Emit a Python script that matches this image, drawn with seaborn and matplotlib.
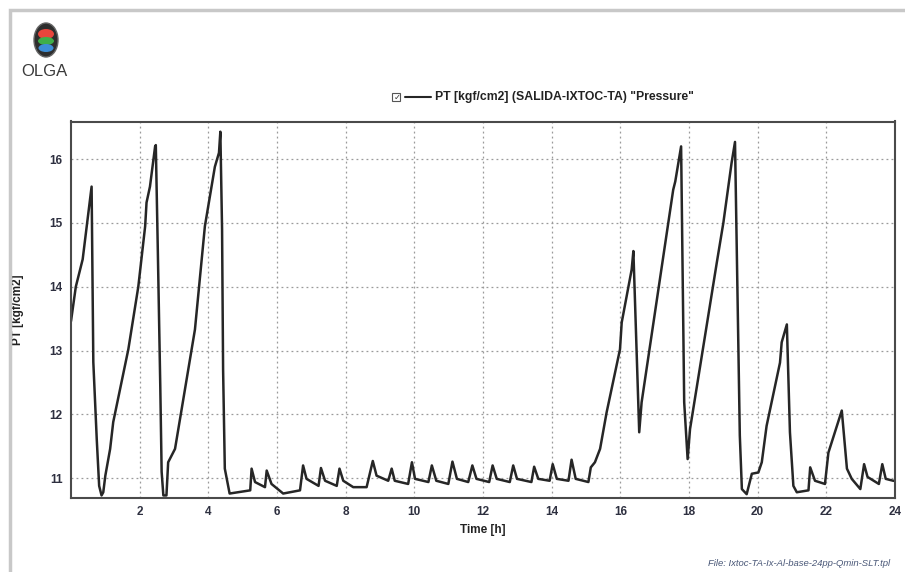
import matplotlib
matplotlib.use("Agg")
import matplotlib.pyplot as plt
from matplotlib.patches import Rectangle, Ellipse
import seaborn as sns
import pandas as pd

# ---- data ----
time_h = [0.00, 0.14, 0.34, 0.41, 0.60, 0.65, 0.75, 0.82, 0.89, 0.94, 1.00, 1.14, 1.23,
          1.67, 1.96, 2.16, 2.20, 2.30, 2.45, 2.47, 2.53, 2.60, 2.64, 2.69, 2.78, 2.83, 3.03,
          3.61, 3.90, 4.19, 4.31, 4.35, 4.40, 4.43, 4.48, 4.62, 5.22,
          5.26, 5.36, 5.65, 5.70, 5.84, 6.18, 6.67,
          6.76, 6.86, 7.21, 7.28, 7.40, 7.74, 7.82, 7.93, 8.22, 8.61,
          8.79, 8.90, 9.24, 9.34, 9.43, 9.82, 9.93, 10.02, 10.41, 10.51, 10.64,
          10.99, 11.11, 11.24, 11.57, 11.69, 11.81, 12.18, 12.28, 12.40,
          12.78, 12.88, 12.99, 13.41, 13.49, 13.61, 13.94, 14.03, 14.15,
          14.49, 14.58, 14.70, 15.07, 15.14, 15.26, 15.41, 15.60, 15.99, 16.04,
          16.33, 16.38, 16.55, 16.62, 17.54, 17.60, 17.77, 17.86, 17.96, 18.03,
          18.81, 19.00, 19.24, 19.34, 19.48, 19.54, 19.68, 19.83, 20.02, 20.12,
          20.26, 20.65, 20.70, 20.85, 20.94, 21.04, 21.14, 21.48, 21.53, 21.67,
          21.96, 22.06, 22.45, 22.60, 22.74, 22.99, 23.10, 23.20, 23.53, 23.63, 23.73, 23.95, 24.00]
pressure = [13.46, 14.00, 14.43, 14.74, 15.57, 12.82, 11.61, 10.88, 10.73, 10.78, 11.04, 11.46, 11.88,
            13.02, 14.00, 14.95, 15.32, 15.57, 16.20, 16.22, 14.53, 12.45, 11.10, 10.73, 10.73, 11.25, 11.46,
            13.33, 14.95, 15.88, 16.10, 16.43, 14.90, 12.70, 11.15, 10.76, 10.81,
            11.15, 10.94, 10.86, 11.12, 10.91, 10.76, 10.81,
            11.20, 10.99, 10.88, 11.16, 10.96, 10.88, 11.15, 10.96, 10.86, 10.86,
            11.27, 11.04, 10.96, 11.15, 10.96, 10.91, 11.25, 10.99, 10.94, 11.20, 10.96,
            10.91, 11.26, 10.99, 10.94, 11.20, 10.99, 10.94, 11.20, 10.99,
            10.94, 11.20, 10.99, 10.94, 11.18, 10.99, 10.96, 11.22, 10.99,
            10.96, 11.29, 10.99, 10.94, 11.17, 11.25, 11.46, 12.03, 13.02, 13.44,
            14.27, 14.56, 11.72, 12.19, 15.52, 15.65, 16.20, 12.19, 11.30, 11.77,
            14.38, 15.00, 15.94, 16.27, 11.67, 10.83, 10.75, 11.07, 11.09, 11.25,
            11.82, 12.81, 13.13, 13.41, 11.72, 10.88, 10.78, 10.81, 11.17, 10.96,
            10.91, 11.40, 12.06, 11.15, 10.99, 10.83, 11.22, 11.02, 10.91, 11.22, 10.99, 10.96, 10.96]
x_ticks = [2, 4, 6, 8, 10, 12, 14, 16, 18, 20, 22, 24]
y_ticks = [11, 12, 13, 14, 15, 16]
series_label = 'PT [kgf/cm2] (SALIDA-IXTOC-TA) "Pressure"'
x_label = "Time [h]"
y_label = "PT [kgf/cm2]"
file_note = "File: Ixtoc-TA-Ix-Al-base-24pp-Qmin-SLT.tpl"

df = pd.DataFrame({"t": time_h, "p": pressure})

sns.set_style("white")
plt.rcParams["font.family"] = ["Liberation Sans", "DejaVu Sans"]

W, H = 905, 572
fig = plt.figure(figsize=(W / 100, H / 100), dpi=100)

def fx(px):
    return px / W

def fy(py):
    return 1 - py / H

# outer frame
fig.patches.append(Rectangle((fx(10), fy(600)), fx(1000), fy(10) - fy(600),
                             transform=fig.transFigure, fill=False,
                             edgecolor="#c8c8c8", linewidth=2.5))

ax = fig.add_axes([fx(71), fy(498), fx(895) - fx(71), fy(121.5) - fy(498)])
sns.lineplot(data=df, x="t", y="p", ax=ax, color="#262626", linewidth=1.8,
             estimator=None, sort=False)
ax.set_xlim(0, 24)
ax.set_ylim(10.69, 16.59)
ax.set_xticks(x_ticks)
ax.set_yticks(y_ticks)
ax.set_xticklabels([str(v) for v in x_ticks], fontsize=8.5, fontweight="bold", color="#2e3040")
ax.set_yticklabels([str(v) for v in y_ticks], fontsize=8.5, fontweight="bold", color="#2e3040")
ax.tick_params(axis="both", length=3, width=0.8, color="#666666", pad=3)
ax.grid(True, color="#9a9a9a", linestyle=(0, (1.5, 2.5)), linewidth=0.9)
for s in ax.spines.values():
    s.set_color("#4a4a4a")
    s.set_linewidth(1.5)
ax.set_xlabel(x_label, fontsize=8.5, fontweight="bold", color="#222222", labelpad=4)
ax.set_ylabel(y_label, fontsize=8.5, fontweight="bold", color="#222222", labelpad=18)

# legend (top)
fig.patches.append(Rectangle((fx(392), fy(101)), fx(8), 8 / H, transform=fig.transFigure,
                             fill=False, edgecolor="#555555", linewidth=0.8))
fig.text(fx(393.5), fy(97), "✓", fontsize=6, family="DejaVu Sans", color="#333333", va="center")
fig.lines.append(plt.Line2D([fx(405), fx(431)], [fy(97), fy(97)], transform=fig.transFigure,
                            color="#262626", linewidth=1.5))
fig.text(fx(435), fy(97), series_label, fontsize=8.8, fontweight="bold", color="#222222",
         va="center")

# file note
fig.text(fx(890), fy(563), file_note, fontsize=6.8, style="italic", color="#4a5878",
         ha="right", va="center")

# OLGA logo
fig.patches.append(Ellipse((fx(46), fy(40)), fx(24), 34 / H, transform=fig.transFigure,
                           facecolor="#2e2e2e", edgecolor="#666666", linewidth=1))
fig.patches.append(Ellipse((fx(46), fy(34)), fx(16), 10 / H, transform=fig.transFigure,
                           facecolor="#e8453c", edgecolor="none"))
fig.patches.append(Ellipse((fx(46), fy(41)), fx(16), 8 / H, transform=fig.transFigure,
                           facecolor="#3fae49", edgecolor="none"))
fig.patches.append(Ellipse((fx(46), fy(48)), fx(15), 8 / H, transform=fig.transFigure,
                           facecolor="#3d8ed6", edgecolor="none"))
fig.text(fx(44), fy(72), "OLGA", fontsize=12, color="#3a3a3a", ha="center", va="center")

fig.savefig("out.png", dpi=100)
